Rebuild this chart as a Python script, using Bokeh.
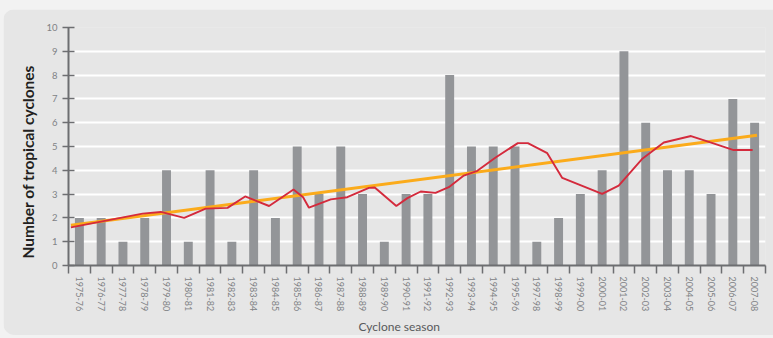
from bokeh.plotting import figure
from bokeh.layouts import column
from bokeh.models import FixedTicker, Title, ColumnDataSource
from bokeh.embed import file_html
from bokeh.resources import INLINE

# Tropical cyclone counts per season (1996-97 not reported)
seasons = [
    "1975-76", "1976-77", "1977-78", "1978-79", "1979-80", "1980-81", "1981-82",
    "1982-83", "1983-84", "1984-85", "1985-86", "1986-87", "1987-88", "1988-89",
    "1989-90", "1990-91", "1991-92", "1992-93", "1993-94", "1994-95", "1995-96",
    "1997-98", "1998-99", "1999-00", "2000-01", "2001-02", "2002-03", "2003-04",
    "2004-05", "2005-06", "2006-07", "2007-08",
]
cyclones = [2, 2, 1, 2, 4, 1, 4, 1, 4, 2, 5, 3, 5, 3, 1, 3, 3, 8, 5, 5, 5,
            1, 2, 3, 4, 9, 6, 4, 4, 3, 7, 6]

# Running mean (red), positions given in season-index units
running_x = [-0.39, 2.90, 3.74, 4.81, 5.80, 6.80, 7.61, 8.71, 9.83, 10.27, 10.54,
             11.54, 12.30, 13.29, 13.56, 14.55, 15.06, 15.67, 16.35, 16.96, 17.65,
             18.27, 19.11, 20.13, 20.59, 21.48, 22.17, 24.00, 24.76, 25.83, 26.83,
             28.08, 28.97, 30.04, 30.91]
running_y = [1.60, 2.18, 2.25, 2.00, 2.39, 2.42, 2.90, 2.50, 3.19, 2.87, 2.43,
             2.78, 2.87, 3.26, 3.28, 2.50, 2.83, 3.11, 3.05, 3.29, 3.78,
             3.98, 4.54, 5.14, 5.14, 4.72, 3.68, 3.01, 3.36, 4.47, 5.17,
             5.44, 5.17, 4.85, 4.85]

# Linear trend (orange), end points
trend_x = [-0.39, 31.11]
trend_y = [1.69, 5.47]

y_ticks = list(range(0, 11))

AXIS = "#6d6e71"
TICK_TEXT = "#808285"
PANEL = "#e6e6e6"

positions = list(range(len(seasons)))
bars = ColumnDataSource(dict(x=positions, top=cyclones, season=seasons))

p = figure(
    width=770, height=326,
    x_range=(-0.5, len(seasons) - 0.5), y_range=(0, 10),
    output_backend="svg", toolbar_location=None,
    min_border_left=65, min_border_right=8, min_border_top=18, min_border_bottom=68,
)
p.background_fill_color = PANEL
p.border_fill_color = PANEL
p.outline_line_color = None

p.vbar(x="x", top="top", width=0.41, source=bars, fill_color="#939598", line_color=None)
p.line(trend_x, trend_y, line_color="#fbab1b", line_width=3)
p.line(running_x, running_y, line_color="#d42a3c", line_width=1.9)

# grid
p.xgrid.visible = False
p.ygrid.grid_line_color = "white"
p.ygrid.grid_line_width = 2
p.ygrid.ticker = FixedTicker(ticks=y_ticks[1:])

# x axis: tick marks between seasons, labels at each season
xa = p.xaxis[0]
xa.ticker = FixedTicker(ticks=positions, minor_ticks=[i - 0.5 for i in range(len(seasons) + 1)])
xa.major_label_overrides = {i: s for i, s in enumerate(seasons)}
xa.major_label_orientation = "vertical"
xa.major_tick_line_color = None
xa.minor_tick_line_color = AXIS
xa.minor_tick_line_width = 1.5
xa.minor_tick_in = 0
xa.minor_tick_out = 8
xa.axis_line_color = AXIS
xa.axis_line_width = 2
xa.major_label_standoff = 3
xa.major_label_text_font = "Lato"
xa.major_label_text_font_size = "9px"
xa.major_label_text_color = TICK_TEXT

ya = p.yaxis[0]
ya.ticker = FixedTicker(ticks=y_ticks)
ya.minor_tick_line_color = None
ya.major_tick_in = 6
ya.major_tick_out = 6
ya.major_tick_line_color = AXIS
ya.major_tick_line_width = 1.5
ya.axis_line_color = AXIS
ya.axis_line_width = 2
ya.major_label_standoff = 5
ya.major_label_text_font = "Lato"
ya.major_label_text_font_size = "9.5px"
ya.major_label_text_color = TICK_TEXT

p.add_layout(Title(text="Cyclone season", align="left", offset=290, standoff=4,
                   text_font="Lato", text_font_size="12px", text_font_style="normal",
                   text_color="#58595b"), "below")
p.add_layout(Title(text="Number of tropical cyclones", align="left", offset=7, standoff=14,
                   text_font="Lato", text_font_size="15.5px", text_font_style="bold",
                   text_color="#231f20"), "left")

p.margin = (9, 0, 3, 3)
p.styles = {"border-radius": "12px 0 0 12px", "overflow": "hidden"}

page = column(p, styles={"background-color": "#f2f2f2"})

open("out.html", "w").write(file_html(page, INLINE))
